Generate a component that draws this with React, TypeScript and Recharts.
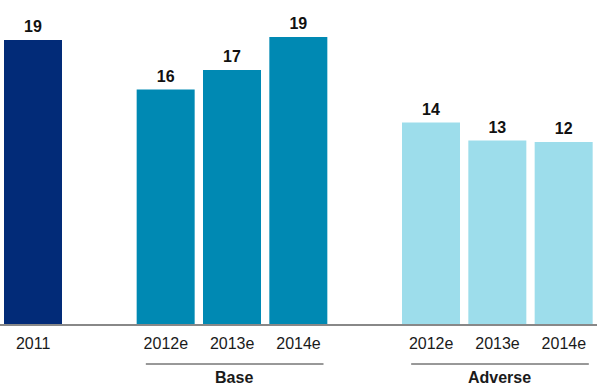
import { BarChart, Bar, XAxis, YAxis, Cell, LabelList } from "recharts";

const categories = ["2011", "", "2012e", "2013e", "2014e", "", "2012e", "2013e", "2014e"];
const values = [19.0, null, 15.7, 17.0, 19.2, null, 13.5, 12.3, 12.2];
const valueLabels = ["19", "", "16", "17", "19", "", "14", "13", "12"];
const scenarios = ["actual", "", "base", "base", "base", "", "adverse", "adverse", "adverse"];
const groupNames = ["", "", "", "Base", "", "", "", "Adverse", ""];

const colors: Record<string, string> = {
  actual: "#022b78",
  base: "#0089b3",
  adverse: "#9dddeb",
};

const data = categories.map((c, i) => ({
  key: "k" + i,
  name: c,
  value: values[i],
  label: valueLabels[i],
  scenario: scenarios[i],
  group: groupNames[i],
}));

const W = 600;
const H = 386;
const M = { top: 25, right: 3, bottom: 0, left: 0 };
const AXIS_H = 61;
const plotBottom = H - M.bottom - AXIS_H;
const pitch = (W - M.left - M.right) / categories.length;
const font = "'Liberation Sans', Arial, sans-serif";

function Tick(props: any) {
  const { x, payload } = props;
  const d = data[payload.index];
  if (!d) return null;
  const ext = pitch + 25;
  return (
    <g>
      <text x={x} y={plotBottom + 24} textAnchor="middle" fontSize={16} fontFamily={font} fill="#1a1a1a">
        {d.name}
      </text>
      {d.group ? (
        <g>
          <line x1={x - ext + 5} x2={x + ext} y1={plotBottom + 39} y2={plotBottom + 39} stroke="#333" strokeWidth={1} />
          <text x={x + 2} y={plotBottom + 58} textAnchor="middle" fontSize={16} fontWeight="bold" fontFamily={font} fill="#1a1a1a">
            {d.group}
          </text>
        </g>
      ) : null}
    </g>
  );
}

function ValueLabel(props: any) {
  const { x, y, width, value } = props;
  if (!value) return null;
  return (
    <text x={x + width / 2} y={y - 8} textAnchor="middle" fontSize={16} fontWeight="bold" fontFamily={font} fill="#111">
      {value}
    </text>
  );
}

export default function App() {
  return (
    <div style={{ position: "absolute", left: 0, top: 0, width: W, height: H, background: "#fff" }}>
      <BarChart width={W} height={H} data={data} margin={M}>
        <YAxis hide domain={[0, 20]} />
        <XAxis
          dataKey="key"
          height={AXIS_H}
          tickLine={false}
          axisLine={{ stroke: "#888", strokeWidth: 2 }}
          tick={<Tick />}
          interval={0}
        />
        <Bar dataKey="value" barSize={58} isAnimationActive={false}>
          {data.map((d) => (
            <Cell key={d.key} fill={colors[d.scenario] || "none"} />
          ))}
          <LabelList dataKey="label" content={<ValueLabel />} />
        </Bar>
      </BarChart>
    </div>
  );
}
